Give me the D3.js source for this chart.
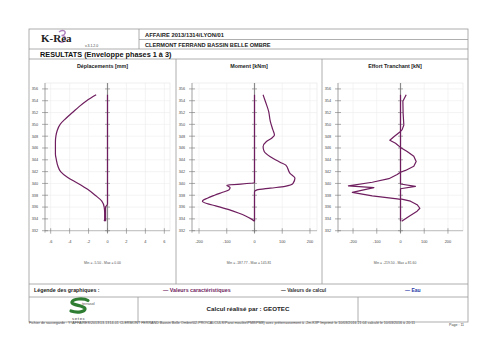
<!DOCTYPE html>
<html>
<head>
<meta charset="utf-8">
<script src="https://cdn.jsdelivr.net/npm/d3@7"></script>
<style>
  body { margin: 0; background: #fff; }
  text { font-family: "Liberation Sans", Arial, sans-serif; }
</style>
</head>
<body>
<script>
// elevations (m NGF) and envelope values
const dispMinZ = [355, 354, 353, 352, 351, 350, 349, 348, 347, 346, 345, 344, 343, 342, 341, 340, 339, 338, 337, 336, 335, 334, 333.6];
const dispMinV = [-1.2, -2.2, -3.0, -3.7, -4.4, -5.0, -5.3, -5.45, -5.5, -5.5, -5.5, -5.4, -5.25, -4.95, -4.2, -3.1, -2.1, -1.3, -0.6, -0.35, -0.3, -0.3, -0.35];
const dispMaxZ = [355, 336.5, 336, 333.6];
const dispMaxV = [0, 0, -0.2, -0.2];

const momMinZ = [355, 340.1, 339.7, 339.3, 338.9, 338.5, 338, 337.5, 337, 336.6, 336.2, 335.6, 335, 334.5, 334, 333.6];
const momMinV = [0, 0, -100, -88, -92, -115, -144, -170, -187.77, -172, -140, -95, -58, -32, -12, 0];
const momMaxZ = [355, 353.9, 352.2, 350.5, 349.1, 348.2, 347.7, 347.1, 346.2, 345.4, 344.5, 343.6, 343.1, 341.7, 340.9, 340.0, 339.5, 339.2, 338.9, 338.6, 333.6];
const momMaxV = [31, 39, 51, 57, 66, 72, 63, 43, 31, 35, 57, 92, 113, 128, 145.81, 139, 110, 57, 9, 0, 0];

const shearMinZ = [355, 348.8, 347.9, 347.3, 346.8, 346.1, 341.9, 341.5, 340.8, 340.2, 339.6, 339.3, 338.5, 337.9, 337.4, 337.3, 333.6];
const shearMinV = [0, 0, -28, -45, -21, 0, 0, -14, -49, -119, -219.5, -112, -203, -119, -14, 0, 0];
const shearMaxZ = [355, 353.9, 351.9, 349.9, 349.1, 348.8, 346.1, 345.4, 344.6, 343.7, 342.9, 342.2, 341.9, 339.9, 339.5, 339.1, 337.4, 337.0, 336.4, 335.8, 335.3, 334.4, 333.6];
const shearMaxV = [24, 10, 11, 14, 7, 0, 0, 28, 56, 66, 56, 21, 0, 0, 63, 0, 0, 42, 70, 81.6, 70, 35, 5];

const panelTitles = ["Déplacements [mm]", "Moment [kNm]", "Effort Tranchant [kN]"];
const dispTicks = [-6, -4, -2, 0, 2, 4, 6];
const forceTicks = [-200, -100, 0, 100, 200];
const levelTicks = [332, 334, 336, 338, 340, 342, 344, 346, 348, 350, 352, 354, 356];
const minMaxLabels = ["Min = -5.50  -  Max = 0.00", "Min = -187.77  -  Max = 145.81", "Min = -219.50  -  Max = 81.60"];

const width = 500;
const height = 353;
const pageLeft = 29;
const pageRight = 468;
const lineCol = "#9a9a9a";
const curveCol = "#6e1d5e";

const svg = d3.select("body").append("svg")
  .attr("width", width)
  .attr("height", height);

svg.append("rect").attr("width", width).attr("height", height).attr("fill", "#fff");

// ---- page frame / table
const frame = svg.append("g").attr("stroke", lineCol).attr("stroke-width", 0.8).attr("fill", "none");
frame.append("rect").attr("x", pageLeft).attr("y", 29).attr("width", pageRight - pageLeft).attr("height", 293);
[[139, 39.5, pageRight, 39.5], [pageLeft, 49, pageRight, 49], [pageLeft, 59, pageRight, 59],
 [139, 29, 139, 49], [176, 59, 176, 284], [322, 59, 322, 284],
 [pageLeft, 284, pageRight, 284], [pageLeft, 297, pageRight, 297],
 [138, 297, 138, 322], [358, 297, 358, 322]]
  .forEach(([x1, y1, x2, y2]) => frame.append("line").attr("x1", x1).attr("y1", y1).attr("x2", x2).attr("y2", y2));

// header (purple "3" of the K-Rea logo drawn as a path, behind the letters)
svg.append("path")
  .attr("d", "M59,32 C62,29.5 66,30.5 65,33.5 C64.5,35 62.5,35.5 61.5,35.5 C65,35.5 66.5,38 65,40.5 C63.5,43 59.5,42.5 58.5,40.5")
  .attr("fill", "none").attr("stroke", "#a066b0").attr("stroke-width", 1.4).attr("opacity", 0.85);
svg.append("text").attr("x", 41).attr("y", 42).style("font-family", "'Liberation Serif', serif")
  .attr("font-weight", "bold").attr("font-size", 11).attr("fill", "#222").text("K-Rea");
svg.append("text").attr("x", 85).attr("y", 46.5).attr("font-size", 3.5).attr("fill", "#444").text("v.3.1.2.0");
svg.append("text").attr("x", 145).attr("y", 36.5).attr("font-size", 5.8).attr("font-weight", "bold")
  .attr("fill", "#222").text("AFFAIRE 2013/1314/LYON/01");
svg.append("text").attr("x", 145).attr("y", 46.5).attr("font-size", 5.6).attr("font-weight", "bold")
  .attr("fill", "#222").text("CLERMONT FERRAND BASSIN BELLE OMBRE");
svg.append("text").attr("x", 40).attr("y", 56.8).attr("font-size", 7.3).attr("font-weight", "bold")
  .attr("fill", "#111").text("RESULTATS (Enveloppe phases 1 à 3)");

// ---- the three panels
const y = d3.scaleLinear().domain([332, 357]).range([230.7, 83]);

const panels = [
  { ticks: dispTicks, series: [[dispMinZ, dispMinV], [dispMaxZ, dispMaxV]], curve: d3.curveMonotoneY },
  { ticks: forceTicks, series: [[momMinZ, momMinV], [momMaxZ, momMaxV]], curve: d3.curveMonotoneY },
  { ticks: forceTicks, series: [[shearMinZ, shearMinV], [shearMaxZ, shearMaxV]], curve: d3.curveLinear },
];
const panelLeft = [29, 176, 322];
const panelRight = [176, 322, 468];

panels.forEach((p, i) => {
  const left = panelLeft[i] + 16;
  const plotW = 125;
  const extent = 1.2 * d3.max(p.series.flatMap((s) => s[1]), (v) => Math.abs(v));
  const x = d3.scaleLinear().domain([-extent, extent]).range([left, left + plotW]);
  const g = svg.append("g");
  const cx = (panelLeft[i] + panelRight[i]) / 2;

  g.append("text").attr("x", cx).attr("y", 68).attr("text-anchor", "middle")
    .attr("font-size", 5.4).attr("font-weight", "bold").attr("fill", "#222").text(panelTitles[i]);

  // grid
  g.append("rect").attr("x", left).attr("y", y(357)).attr("width", plotW).attr("height", y(332) - y(357))
    .attr("fill", "none").attr("stroke", "#e4e4e4").attr("stroke-width", 0.6);
  g.selectAll(".gx").data(p.ticks).join("line")
    .attr("x1", (d) => x(d)).attr("x2", (d) => x(d)).attr("y1", y(357)).attr("y2", y(332))
    .attr("stroke", "#ededed").attr("stroke-width", 0.6);
  g.selectAll(".gy").data(levelTicks).join("line")
    .attr("x1", left).attr("x2", left + plotW).attr("y1", (d) => y(d)).attr("y2", (d) => y(d))
    .attr("stroke", "#ededed").attr("stroke-width", 0.6);

  // axes
  g.append("line").attr("x1", left).attr("x2", left + plotW).attr("y1", y(332)).attr("y2", y(332))
    .attr("stroke", "#aaa").attr("stroke-width", 0.7);
  g.append("line").attr("x1", left).attr("x2", left).attr("y1", y(357)).attr("y2", y(332) + 2)
    .attr("stroke", "#888").attr("stroke-width", 0.7);
  g.append("line").attr("x1", x(0)).attr("x2", x(0)).attr("y1", y(357)).attr("y2", y(332) + 2)
    .attr("stroke", "#8a8a8a").attr("stroke-width", 1.2);
  g.selectAll(".ty").data(levelTicks).join("line")
    .attr("x1", left - 3).attr("x2", left + 3).attr("y1", (d) => y(d)).attr("y2", (d) => y(d))
    .attr("stroke", "#777").attr("stroke-width", 0.6);
  g.selectAll(".tz").data(levelTicks).join("line")
    .attr("x1", x(0) - 2.5).attr("x2", x(0) + 2.5).attr("y1", (d) => y(d)).attr("y2", (d) => y(d))
    .attr("stroke", "#777").attr("stroke-width", 0.6);
  g.selectAll(".tx").data(p.ticks).join("line")
    .attr("x1", (d) => x(d)).attr("x2", (d) => x(d)).attr("y1", y(332) - 2.5).attr("y2", y(332) + 3)
    .attr("stroke", "#777").attr("stroke-width", 0.6);

  g.selectAll(".ly").data(levelTicks).join("text")
    .attr("x", left - 7).attr("y", (d) => y(d) + 1.4).attr("text-anchor", "end")
    .attr("font-size", 3.8).attr("fill", "#444").text((d) => d);
  g.selectAll(".lx").data(p.ticks).join("text")
    .attr("x", (d) => x(d)).attr("y", 242.5).attr("text-anchor", "middle")
    .attr("font-size", 3.9).attr("fill", "#444").text((d) => d);

  // envelope curves
  const line = d3.line().x((d) => x(d[1])).y((d) => y(d[0])).curve(p.curve);
  p.series.forEach(([zs, vs]) => {
    g.append("path").datum(zs.map((z, k) => [z, vs[k]]))
      .attr("d", line).attr("fill", "none").attr("stroke", curveCol).attr("stroke-width", 1.2)
      .attr("stroke-linejoin", "round");
  });

  g.append("text").attr("x", cx).attr("y", 264).attr("text-anchor", "middle")
    .attr("font-size", 3.4).attr("fill", "#555").text(minMaxLabels[i]);
});

// ---- legend row
svg.append("text").attr("x", 34).attr("y", 292).attr("font-size", 5.3).attr("font-weight", "bold")
  .attr("fill", "#222").text("Légende des graphiques :");
svg.append("text").attr("x", 163).attr("y", 292).attr("font-size", 5.3).attr("font-weight", "bold")
  .attr("fill", "#6e1d5e").text("— Valeurs caractéristiques");
svg.append("text").attr("x", 281).attr("y", 292).attr("font-size", 4.8).attr("font-weight", "bold")
  .attr("fill", "#333").text("— Valeurs de calcul");
svg.append("text").attr("x", 405).attr("y", 292).attr("font-size", 5).attr("font-weight", "bold")
  .attr("fill", "#2a3aa8").text("— Eau");

// ---- footer
svg.append("path")
  .attr("d", "M88,300.5 C84,298 73,298.5 72,302 C71,305.5 84,305 85,308.5 C86,312 77,313 71,311")
  .attr("fill", "none").attr("stroke", "#2f7d32").attr("stroke-width", 3.2).attr("stroke-linecap", "round");
svg.append("text").attr("x", 82).attr("y", 304.5).attr("font-size", 3.8).attr("fill", "#555").text("terrasol");
svg.append("text").attr("x", 72).attr("y", 320).attr("font-size", 4.4).attr("letter-spacing", 0.6)
  .attr("fill", "#333").text("setec");
svg.append("text").attr("x", 248).attr("y", 311).attr("text-anchor", "middle").attr("font-size", 6.2)
  .attr("font-weight", "bold").attr("fill", "#222").text("Calcul réalisé par : GEOTEC");
svg.append("text").attr("x", 29).attr("y", 323.5).attr("font-size", 3.2).attr("fill", "#444")
  .attr("textLength", 386).attr("lengthAdjust", "spacingAndGlyphs")
  .text("Fichier de sauvegarde : Y:\\AFFAIRES\\2013\\13-1314-01 CLERMONT FERRAND Bassin Belle Ombre\\02-PRO\\CALCULS\\Paroi moulée\\PM8\\PM8) avec préterrassement à -2m.K3P    Imprimé le 10/03/2016 21:04 calculé le 10/03/2016 à 20:11");
svg.append("text").attr("x", 449).attr("y", 326).attr("font-size", 3.6).attr("fill", "#444").text("Page : 11");
</script>
</body>
</html>
